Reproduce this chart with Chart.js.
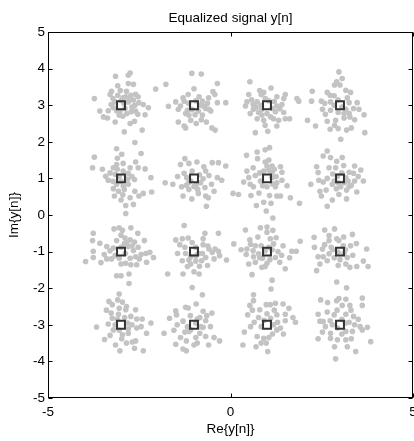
<!DOCTYPE html>
<html>
<head>
<meta charset="utf-8">
<script src="https://cdn.jsdelivr.net/npm/chart.js@4"></script>
<style>
  html, body { margin: 0; padding: 0; background: #fff; overflow: hidden; }
  #wrap { width: 414px; height: 441px; }
</style>
</head>
<body>
<div id="wrap"><canvas id="chart"></canvas></div>
<script>
// --- DATI ---
// 16-QAM reference symbols
const symbolRe = [-3, -1, 1, 3];
const symbolIm = [-3, -1, 1, 3];

// equalized samples, one list per symbol
const nearM3P3 = [[-3.15,3.79],[-2.80,3.82],[-2.75,3.88],[-3.09,3.53],[-2.80,3.59],[-2.66,3.57],[-3.26,3.38],[-3.30,3.29],[-3.09,3.27],[-2.87,3.23],[-2.73,3.27],[-2.60,3.30],[-2.53,3.23],[-3.73,3.18],[-3.27,3.02],[-3.21,2.93],[-2.80,3.09],[-2.66,3.14],[-2.51,3.07],[-2.39,3.02],[-2.25,2.93],[-3.58,2.84],[-3.48,2.68],[-3.37,2.65],[-3.05,2.73],[-2.84,2.77],[-2.60,2.84],[-2.54,2.75],[-2.34,2.74],[-3.16,2.54],[-2.75,2.50],[-2.63,2.56],[-2.91,2.27],[-2.42,2.32],[-2.05,3.44],[-1.77,3.57],[-3.00,3.13],[-3.17,3.09],[-3.03,2.82],[-2.70,2.95],[-2.89,2.91],
    [-3.22,3.18],[-2.95,3.20],[-2.78,3.18],[-2.62,3.00],[-2.92,3.05],[-3.12,2.85],[-2.95,2.70],[-2.72,2.82],[-3.35,2.85],[-2.85,3.38],[-3.02,3.40]];
const nearM1P3 = [[-1.06,3.87],[-0.80,3.85],[-0.36,3.59],[-0.48,3.37],[-0.43,3.29],[-1.16,3.29],[-1.50,3.09],[-1.27,3.11],[-1.70,2.97],[-1.43,2.89],[-0.77,3.11],[-0.63,3.05],[-0.36,3.07],[-0.13,3.07],[-0.59,2.89],[-0.54,2.84],[-1.23,2.77],[-1.14,2.73],[-0.97,2.74],[-0.77,2.73],[-1.43,2.54],[-1.27,2.43],[-1.23,2.38],[-1.09,2.59],[-0.94,2.50],[-0.66,2.54],[-0.51,2.38],[-0.42,2.32],[-0.86,3.23],[-1.18,2.86],[-0.68,2.91],[-1.37,2.98],
    [-0.82,3.00],[-0.72,2.96],[-0.88,2.84],[-1.05,2.88],[-0.60,3.20],[-1.30,3.20],[-0.95,3.12],[-0.80,2.60],[-1.00,3.45],[-1.15,3.05]];
const nearP1P3 = [[0.53,3.64],[1.11,3.47],[0.91,3.35],[0.50,3.29],[0.84,3.29],[1.27,3.23],[1.50,3.29],[1.46,3.18],[1.82,3.18],[1.87,3.11],[0.45,3.09],[0.73,3.09],[0.41,2.98],[1.27,2.98],[1.41,3.02],[0.63,2.89],[0.54,2.77],[0.77,2.80],[1.00,2.77],[1.23,2.82],[1.46,2.80],[0.73,2.63],[0.91,2.59],[1.18,2.63],[1.32,2.59],[1.50,2.63],[1.62,2.63],[0.95,2.45],[1.27,2.43],[0.68,2.25],[1.02,2.29],[0.84,3.00],[1.14,2.91],[0.86,2.73],
    [0.62,3.02],[0.70,2.94],[0.58,3.15],[0.85,2.88],[1.05,3.12],[1.20,3.10],[1.35,2.90],[0.95,3.18],[1.10,2.68],[0.80,3.40]];
const nearP3P3 = [[2.97,3.91],[2.91,3.64],[3.06,3.73],[2.85,3.55],[2.24,3.38],[3.16,3.41],[3.29,3.35],[2.73,3.27],[2.84,3.26],[2.22,3.11],[2.49,3.11],[2.58,3.05],[3.25,3.07],[3.47,3.07],[2.52,2.89],[2.74,2.86],[3.16,2.89],[3.37,2.91],[3.52,2.89],[3.66,2.74],[2.11,2.59],[2.65,2.56],[2.88,2.59],[3.11,2.65],[3.27,2.68],[2.33,2.43],[2.73,2.34],[2.95,2.36],[3.18,2.32],[3.31,2.38],[3.68,2.25],[3.02,2.07],[2.84,3.00],[3.11,2.77],[2.74,3.09],
    [2.95,2.80],[3.05,2.95],[3.25,2.78],[2.60,2.75],[2.95,3.15],[3.20,3.20],[2.65,3.35],[3.40,2.60],[2.85,2.45],[3.00,3.55]];
const nearM3P1 = [[-2.62,1.98],[-3.12,1.81],[-2.98,1.66],[-2.45,1.68],[-3.73,1.58],[-3.78,1.29],[-3.51,1.25],[-3.12,1.38],[-2.94,1.41],[-3.21,1.29],[-2.75,1.29],[-2.53,1.29],[-2.34,1.26],[-3.42,1.06],[-3.35,0.95],[-2.63,0.97],[-2.18,1.02],[-2.80,0.84],[-3.21,0.72],[-3.07,0.65],[-2.91,0.70],[-2.62,0.65],[-2.39,0.59],[-2.16,0.63],[-3.18,0.52],[-3.00,0.41],[-2.75,0.47],[-2.51,0.52],[-2.87,0.26],[-2.66,0.29],[-2.87,0.04],[-2.94,1.20],[-3.16,1.11],[-2.80,1.14],[-3.12,0.84],[-2.94,0.79],
    [-3.05,1.05],[-3.22,0.92],[-3.00,0.92],[-2.82,0.98],[-3.10,1.25],[-2.70,1.05],[-3.30,1.15],[-2.95,0.55],[-3.10,1.55],[-2.60,1.45]];
const nearM1P1 = [[-1.25,1.54],[-1.37,1.38],[-1.14,1.41],[-0.73,1.32],[-0.50,1.43],[-0.33,1.43],[-0.13,1.34],[-0.68,1.20],[-1.27,1.14],[-0.59,1.08],[-0.36,1.02],[-0.24,0.95],[-1.79,0.88],[-1.58,0.84],[-1.34,0.77],[-1.21,0.81],[-1.14,0.70],[-0.82,0.88],[-0.52,0.84],[-1.30,0.52],[-1.06,0.44],[-0.88,0.59],[-0.68,0.52],[-0.61,0.47],[-0.66,0.24],[-0.95,0.81],[-1.09,0.93],[-0.75,0.99],
    [-1.00,0.78],[-0.90,0.70],[-1.15,0.88],[-0.85,1.10],[-1.05,1.20],[-1.20,1.02],[-0.70,0.75],[-0.92,1.45],[-0.45,0.65],[-1.45,1.05]];
const nearP1P1 = [[1.07,1.84],[0.95,1.78],[0.73,1.72],[0.44,1.63],[0.74,1.54],[1.05,1.50],[1.00,1.34],[1.14,1.34],[1.37,1.32],[0.62,1.29],[0.91,1.20],[1.14,1.17],[1.41,1.17],[0.68,1.08],[0.50,1.02],[0.36,0.90],[0.54,0.84],[1.41,0.95],[1.27,0.88],[0.63,0.77],[1.00,0.77],[1.23,0.77],[0.07,0.59],[0.22,0.56],[0.56,0.53],[1.07,0.53],[1.27,0.52],[1.37,0.52],[1.64,0.47],[0.91,0.35],[1.11,0.32],[0.71,0.26],[1.89,0.32],[0.98,0.11],[1.14,1.02],[0.82,0.93],
    [1.05,1.22],[1.20,1.25],[0.95,1.45],[0.80,1.15],[1.25,1.05],[0.88,0.80],[1.15,0.85],[0.78,0.60],[1.55,0.80],[0.45,1.20]];
const nearP3P1 = [[2.65,1.75],[2.54,1.61],[2.74,1.57],[3.06,1.57],[2.91,1.47],[2.36,1.32],[2.70,1.29],[2.88,1.29],[3.40,1.34],[3.57,1.23],[2.40,1.16],[3.25,1.17],[3.37,1.14],[2.42,0.95],[2.54,0.90],[2.20,0.84],[2.79,0.84],[3.22,0.93],[3.40,0.93],[3.64,0.93],[2.45,0.65],[3.02,0.77],[2.97,0.56],[3.18,0.68],[3.31,0.81],[3.46,0.63],[2.49,0.52],[2.79,0.41],[3.18,0.44],[2.65,0.24],[2.93,1.06],[3.16,1.02],[2.84,0.93],
    [2.95,0.88],[3.05,1.15],[3.12,0.88],[2.80,1.12],[3.25,0.78],[2.90,0.72],[2.65,1.00],[3.10,1.35],[2.62,0.68],[3.50,1.05]];
const nearM3M1 = [[-3.05,-0.35],[-3.19,-0.38],[-2.96,-0.42],[-2.73,-0.35],[-3.76,-0.50],[-2.54,-0.50],[-3.78,-0.70],[-3.58,-0.77],[-3.12,-0.70],[-2.89,-0.63],[-2.75,-0.68],[-2.63,-0.74],[-2.36,-0.70],[-3.39,-0.86],[-3.21,-0.90],[-2.80,-0.86],[-2.53,-0.88],[-3.76,-0.99],[-3.46,-1.08],[-2.21,-1.02],[-3.76,-1.16],[-3.97,-1.27],[-3.39,-1.20],[-2.60,-1.14],[-2.45,-1.08],[-2.32,-1.05],[-2.11,-1.16],[-3.26,-1.20],[-2.87,-1.32],[-2.73,-1.36],[-2.57,-1.36],[-2.30,-1.29],[-3.00,-1.34],[-3.12,-1.66],[-3.00,-1.66],[-2.78,-1.61],[-2.78,-1.87],[-2.91,-0.79],[-2.66,-0.97],[-3.16,-1.11],
    [-2.85,-0.75],[-2.70,-0.85],[-3.00,-0.88],[-2.88,-1.05],[-3.05,-1.18],[-2.75,-1.18],[-3.30,-0.98],[-2.50,-1.20],[-3.55,-1.30],[-3.00,-0.55]];
const nearM1M1 = [[-1.27,-0.29],[-0.33,-0.50],[-1.50,-0.68],[-1.32,-0.65],[-1.16,-0.63],[-1.39,-0.81],[-0.75,-0.65],[-0.75,-0.81],[-0.59,-0.93],[-0.42,-0.93],[-0.33,-0.99],[-0.95,-0.88],[-1.23,-1.05],[-0.77,-1.05],[-0.68,-1.16],[-0.30,-1.11],[-0.11,-1.23],[-1.32,-1.25],[-1.14,-1.23],[-0.95,-1.26],[-0.79,-1.25],[-1.18,-1.41],[-1.09,-1.34],[-0.63,-1.38],[-1.72,-1.61],[-1.30,-1.61],[-0.86,-1.61],[-0.50,-1.02],[-1.09,-1.14],
    [-0.88,-1.05],[-1.05,-0.75],[-0.95,-1.12],[-0.62,-0.85],[-1.25,-0.88],[-0.85,-1.40],[-0.45,-1.20],[-1.45,-1.05],[-0.70,-0.50],[-1.00,-1.55]];
const nearP1M1 = [[1.16,-0.08],[0.41,-0.41],[0.82,-0.35],[1.00,-0.33],[1.16,-0.42],[1.00,-0.47],[0.53,-0.68],[1.09,-0.65],[0.09,-0.79],[0.68,-0.84],[0.84,-0.84],[1.18,-0.79],[1.44,-0.84],[1.91,-0.72],[0.29,-0.95],[0.45,-0.93],[1.68,-0.99],[1.80,-0.99],[0.43,-1.08],[0.63,-1.14],[0.80,-1.17],[1.23,-1.16],[1.62,-1.17],[0.50,-1.34],[0.68,-1.29],[1.00,-1.32],[1.35,-1.29],[0.86,-1.43],[0.95,-1.41],[1.50,-1.47],[0.59,-1.63],[1.14,-1.78],[1.11,-2.02],[1.14,-0.95],[0.77,-1.06],
    [0.95,-0.98],[1.05,-0.88],[0.88,-1.18],[1.30,-1.00],[0.62,-0.98],[1.08,-1.22],[1.25,-0.62],[0.75,-0.60],[1.40,-1.10],[0.55,-0.80]];
const nearP3M1 = [[2.58,-0.41],[2.85,-0.38],[2.29,-0.61],[2.70,-0.56],[2.91,-0.65],[2.97,-0.70],[3.34,-0.53],[2.58,-0.81],[3.29,-0.84],[2.52,-0.93],[3.73,-0.93],[2.76,-0.88],[2.40,-1.14],[2.54,-1.14],[2.70,-1.06],[2.84,-1.17],[3.20,-1.16],[2.45,-1.34],[2.95,-1.38],[3.16,-1.34],[3.27,-1.43],[3.46,-1.41],[3.64,-1.26],[3.77,-1.41],[2.36,-1.52],[3.11,-1.05],[3.09,-0.84],
    [2.95,-1.02],[2.80,-0.95],[3.15,-0.95],[3.00,-1.22],[2.65,-1.25],[3.35,-1.10],[2.70,-0.70],[3.10,-0.60],[3.45,-0.78],[2.30,-0.88]];
const nearM3M3 = [[-3.05,-2.16],[-3.33,-2.36],[-3.24,-2.45],[-3.09,-2.32],[-2.96,-2.38],[-2.87,-2.59],[-2.60,-2.59],[-3.27,-2.68],[-3.07,-2.71],[-2.73,-2.77],[-2.57,-2.84],[-2.42,-2.84],[-3.24,-2.82],[-3.67,-3.06],[-3.35,-2.98],[-2.18,-2.95],[-3.21,-3.14],[-2.80,-3.11],[-2.57,-3.09],[-3.30,-3.29],[-2.96,-3.27],[-2.80,-3.23],[-2.30,-3.23],[-2.98,-3.38],[-2.60,-3.44],[-2.69,-3.47],[-3.15,-3.55],[-2.63,-3.64],[-3.03,-3.71],[-2.39,-3.71],[-3.16,-3.00],[-2.82,-2.95],
    [-3.10,-2.85],[-2.90,-2.80],[-3.05,-3.15],[-2.70,-3.00],[-3.40,-2.60],[-2.85,-2.50],[-2.45,-3.05],[-3.45,-3.40],[-2.85,-3.50],[-3.05,-2.55]];
const nearM1M3 = [[-1.05,-1.98],[-0.77,-2.18],[-0.94,-2.43],[-1.16,-2.54],[-1.50,-2.62],[-1.23,-2.52],[-0.75,-2.63],[-0.51,-2.68],[-1.48,-2.73],[-0.84,-2.80],[-0.68,-2.89],[-1.67,-2.82],[-1.46,-3.00],[-1.18,-3.05],[-0.75,-3.07],[-1.82,-3.23],[-1.14,-3.18],[-0.84,-3.23],[-0.68,-3.32],[-1.37,-3.35],[-1.21,-3.44],[-0.95,-3.35],[-1.50,-3.53],[-0.91,-3.50],[-0.45,-3.35],[-0.30,-3.44],[-1.30,-3.66],[-1.21,-3.71],[-0.91,-2.84],[-1.09,-3.14],
    [-0.95,-2.95],[-0.82,-3.05],[-1.10,-2.75],[-0.65,-2.75],[-1.30,-2.90],[-0.55,-3.05],[-1.00,-3.55],[-1.25,-3.20],[-0.60,-3.55],[-1.55,-3.15]];
const nearP1M3 = [[0.63,-2.18],[0.63,-2.34],[0.53,-2.47],[0.98,-2.45],[1.09,-2.45],[1.23,-2.41],[1.44,-2.43],[0.80,-2.59],[0.47,-2.73],[0.77,-2.80],[1.27,-2.73],[1.50,-2.71],[1.71,-2.80],[0.65,-2.93],[1.29,-2.93],[1.50,-2.89],[1.78,-2.93],[1.37,-3.09],[1.27,-3.14],[0.38,-3.20],[0.73,-3.32],[0.91,-3.37],[1.05,-3.35],[0.34,-3.55],[0.84,-3.50],[0.98,-3.50],[1.02,-3.73],[1.18,-3.00],[0.84,-3.05],
    [1.00,-2.70],[1.10,-2.82],[0.92,-2.88],[1.20,-2.60],[0.60,-2.60],[1.45,-3.25],[0.55,-3.05],[1.15,-3.25],[0.70,-3.60],[1.60,-2.55]];
const nearP3M3 = [[2.91,-1.83],[3.18,-1.99],[2.47,-2.32],[2.66,-2.39],[2.91,-2.34],[2.97,-2.28],[3.16,-2.30],[3.61,-2.27],[3.06,-2.47],[3.27,-2.47],[3.61,-2.47],[2.40,-2.71],[2.65,-2.65],[2.84,-2.73],[3.16,-2.71],[3.37,-2.77],[2.54,-2.91],[2.73,-2.89],[3.25,-2.93],[3.40,-3.00],[3.55,-3.05],[3.75,-3.07],[2.52,-3.20],[2.74,-3.23],[3.16,-3.18],[3.34,-3.18],[3.61,-3.14],[2.40,-3.38],[2.74,-3.37],[2.93,-3.41],[3.16,-3.41],[3.31,-3.38],[3.84,-3.46],[3.43,-3.73],[2.88,-3.93],[2.93,-3.09],[2.79,-3.00],
    [3.05,-2.85],[2.92,-2.60],[3.15,-2.95],[2.60,-3.05],[3.30,-2.60],[3.05,-3.25],[2.85,-3.60],[3.50,-2.85],[2.45,-2.90],[3.20,-3.60]];

// axis ticks
const xTicks = [-5, 0, 5];
const yTicks = [-5, -4, -3, -2, -1, 0, 1, 2, 3, 4, 5];

// --- COSTRUZIONE DATASET ---
const samples = [].concat(
    nearM3P3, nearM1P3, nearP1P3, nearP3P3,
    nearM3P1, nearM1P1, nearP1P1, nearP3P1,
    nearM3M1, nearM1M1, nearP1M1, nearP3M1,
    nearM3M3, nearM1M3, nearP1M3, nearP3M3
).map(p => ({ x: p[0], y: p[1] }));

const symbols = [];
symbolIm.forEach(im => symbolRe.forEach(re => symbols.push({ x: re, y: im })));

const FONT = "'Liberation Sans', Arial, sans-serif";

// cornice + tacche interne (stile MATLAB)
const frameTicks = {
    id: 'frameTicks',
    afterDraw(chart) {
        const { ctx, chartArea: a, scales: { x, y } } = chart;
        const L = Math.round(a.left) + 0.5, R = Math.round(a.right) - 0.5;
        const T = Math.round(a.top) + 0.5, B = Math.round(a.bottom) - 0.5;
        ctx.save();
        ctx.strokeStyle = '#000';
        ctx.lineWidth = 1;
        ctx.strokeRect(L, T, R - L, B - T);
        ctx.beginPath();
        yTicks.forEach(v => {
            const py = Math.round(y.getPixelForValue(v)) + 0.5;
            ctx.moveTo(L, py); ctx.lineTo(L + 4, py);
            ctx.moveTo(R, py); ctx.lineTo(R - 4, py);
        });
        xTicks.forEach(v => {
            const px = Math.round(x.getPixelForValue(v)) + 0.5;
            ctx.moveTo(px, B); ctx.lineTo(px, B - 4);
            ctx.moveTo(px, T); ctx.lineTo(px, T + 4);
        });
        ctx.stroke();
        ctx.restore();
    }
};

new Chart(document.getElementById('chart'), {
    type: 'scatter',
    data: {
        datasets: [
            {
                label: 'symbols',
                data: symbols,
                pointStyle: 'rect',
                pointRadius: 5.6,
                backgroundColor: 'rgba(0,0,0,0)',
                borderColor: '#333',
                borderWidth: 2,
                order: 0
            },
            {
                label: 'y[n]',
                data: samples,
                pointStyle: 'circle',
                pointRadius: 2.8,
                backgroundColor: '#c3c3c3',
                borderWidth: 0,
                order: 1
            }
        ]
    },
    options: {
        responsive: true,
        maintainAspectRatio: false,
        animation: false,
        layout: { autoPadding: false, padding: { left: 0, right: 1, top: 0, bottom: 0 } },
        plugins: {
            legend: { display: false },
            tooltip: { enabled: false },
            title: { display: false }
        },
        scales: {
            x: {
                type: 'linear',
                min: -5, max: 5,
                border: { display: false },
                grid: { drawOnChartArea: false, drawTicks: false },
                ticks: {
                    stepSize: 5,
                    padding: 6,
                    color: '#000',
                    font: { family: FONT, size: 13.5 }
                },
                title: {
                    display: true,
                    text: 'Re{y[n]}',
                    color: '#000',
                    font: { family: FONT, size: 13.5 },
                    padding: { top: 0, bottom: 4 }
                },
                afterFit(scale) {
                    scale.height = 43;
                    scale.paddingLeft = 0;
                    scale.paddingRight = 0;
                }
            },
            // asse superiore usato solo per il titolo, centrato sull'area del grafico
            top: {
                type: 'linear',
                position: 'top',
                display: true,
                min: -5, max: 5,
                border: { display: false },
                grid: { display: false, drawTicks: false },
                ticks: { display: false },
                title: {
                    display: true,
                    text: 'Equalized signal y[n]',
                    color: '#000',
                    font: { family: FONT, size: 13.5 },
                    padding: { top: 10, bottom: 0 }
                },
                afterFit(scale) {
                    scale.height = 32;
                    scale.paddingLeft = 0;
                    scale.paddingRight = 0;
                }
            },
            y: {
                type: 'linear',
                min: -5, max: 5,
                border: { display: false },
                grid: { drawOnChartArea: false, drawTicks: false },
                ticks: {
                    stepSize: 1,
                    padding: 3,
                    color: '#000',
                    font: { family: FONT, size: 13.5 }
                },
                title: {
                    display: true,
                    text: 'Im{y[n]}',
                    color: '#000',
                    font: { family: FONT, size: 13.5 },
                    padding: { top: 6, bottom: 0 }
                },
                afterFit(scale) {
                    scale.width = 48;
                    scale.paddingTop = 0;
                    scale.paddingBottom = 0;
                }
            }
        }
    },
    plugins: [frameTicks]
});
</script>
</body>
</html>
